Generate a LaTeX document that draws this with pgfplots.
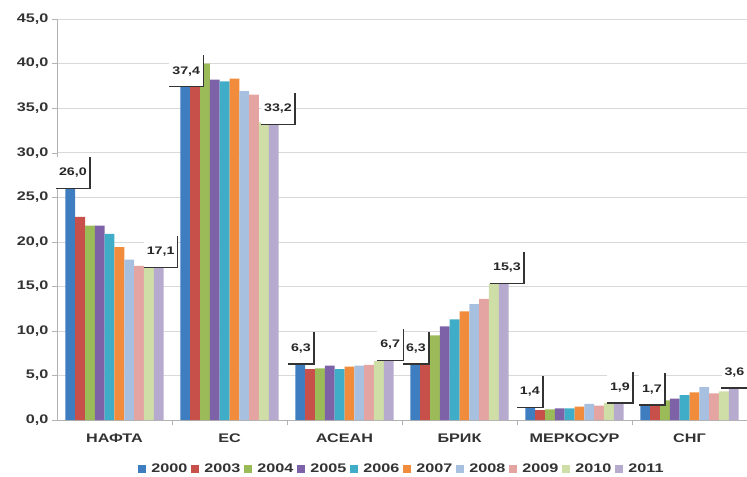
\documentclass[border=0pt]{standalone}
\usepackage{pgfplots}
\usepackage{pgfplotstable}
\pgfplotsset{compat=1.18}
\usepackage{fontspec}
\setmainfont{Liberation Sans}[FakeStretch=1.3]

\definecolor{c2000}{HTML}{3D7DC0}
\definecolor{c2003}{HTML}{C8504B}
\definecolor{c2004}{HTML}{9BBB59}
\definecolor{c2005}{HTML}{7E62A8}
\definecolor{c2006}{HTML}{40ADC8}
\definecolor{c2007}{HTML}{F08C3C}
\definecolor{c2008}{HTML}{A8C0E0}
\definecolor{c2009}{HTML}{E4A4A2}
\definecolor{c2010}{HTML}{CFDDA6}
\definecolor{c2011}{HTML}{B6ABCE}
\definecolor{txt}{HTML}{333333}

% cat: 0 NAFTA, 1 EU, 2 ASEAN, 3 BRIC, 4 MERCOSUR, 5 CIS
\pgfplotstableread{
cat y2000 y2003 y2004 y2005 y2006 y2007 y2008 y2009 y2010 y2011
0   26.0  22.8  21.8  21.8  20.9  19.4  18.0  17.3  17.1  17.1
1   37.4  37.4  40.0  38.2  38.0  38.3  36.9  36.5  33.4  33.2
2   6.3   5.7   5.8   6.1   5.7   6.0   6.1   6.2   6.6   6.7
3   6.3   6.3   9.5   10.5  11.3  12.2  13.0  13.6  15.3  15.3
4   1.4   1.1   1.2   1.3   1.3   1.5   1.8   1.6   1.9   1.9
5   1.7   1.7   2.2   2.4   2.8   3.1   3.7   3.0   3.2   3.6
}\trade

\begin{document}
\begin{tikzpicture}[
  lbl/.style={anchor=south east, fill=white, text=black!85,
    font=\bfseries\fontsize{11}{12}\selectfont,
    inner xsep=3bp, minimum height=31bp},
  ll/.style={draw=black!80, line width=1.3bp}
]
\begin{axis}[
  scale only axis, width=690bp, height=401bp,
  ybar=0pt, bar width=9.83bp,
  xmin=-0.5, xmax=5.5, ymin=0, ymax=45,
  clip=false,
  axis x line*=bottom, axis y line*=left,
  axis line style={draw=black!30},
  ytick={0,5,...,45},
  ymajorgrids, grid style={draw=black!15},
  tick align=outside, major tick length=5bp,
  ytick style={draw=black!30},
  yticklabel style={text=txt, font=\bfseries\fontsize{12.5}{14}\selectfont},
  /pgf/number format/.cd, fixed, fixed zerofill, precision=1, use comma,
  assume math mode=true, /pgfplots/.cd,
  xtick={0,...,5},
  xticklabels={НАФТА,ЕС,АСЕАН,БРИК,МЕРКОСУР,СНГ},
  xtick style={draw=none},
  xticklabel style={text=txt, font=\bfseries\fontsize{12.5}{14}\selectfont, yshift=-5bp},
  extra x ticks={0.5,1.5,2.5,3.5,4.5},
  extra x tick labels={},
  extra x tick style={grid=none, xtick style={draw=black!30}},
  legend columns=10,
  legend style={at={(0.5,0)}, anchor=north, yshift=-40bp, draw=none,
    font=\bfseries\fontsize{12.5}{14}\selectfont, text=txt,
    /tikz/every odd column/.append style={column sep=3bp},
    /tikz/every even column/.append style={column sep=2bp}},
  legend image code/.code={\path[#1,draw=none] (0bp,-4bp) rectangle (8bp,4bp);},
]
\addplot[fill=c2000, draw=none] table[x=cat,y=y2000] {\trade};
\addplot[fill=c2003, draw=none] table[x=cat,y=y2003] {\trade};
\addplot[fill=c2004, draw=none] table[x=cat,y=y2004] {\trade};
\addplot[fill=c2005, draw=none] table[x=cat,y=y2005] {\trade};
\addplot[fill=c2006, draw=none] table[x=cat,y=y2006] {\trade};
\addplot[fill=c2007, draw=none] table[x=cat,y=y2007] {\trade};
\addplot[fill=c2008, draw=none] table[x=cat,y=y2008] {\trade};
\addplot[fill=c2009, draw=none] table[x=cat,y=y2009] {\trade};
\addplot[fill=c2010, draw=none] table[x=cat,y=y2010] {\trade};
\addplot[fill=c2011, draw=none] table[x=cat,y=y2011] {\trade};
\legend{2000,2003,2004,2005,2006,2007,2008,2009,2010,2011}

\coordinate (O) at (rel axis cs:0,0);

\node[lbl] (a1) at (axis cs:-0.213,26.0) {26,0};
\node[lbl] (a2) at (axis cs:0.55,17.1) {17,1};
\node[lbl] (b1) at (axis cs:0.772,37.4) {37,4};
\node[lbl] (b2) at (axis cs:1.57,33.2) {33,2};
\node[lbl] (c1) at (axis cs:1.735,6.3) {6,3};
\node[lbl] (c2) at (axis cs:2.511,6.7) {6,7};
\node[lbl] (d1) at (axis cs:2.735,6.3) {6,3};
\node[lbl] (d2) at (axis cs:3.561,15.3) {15,3};
\node[lbl] (e1) at (axis cs:3.726,1.4) {1,4};
\node[lbl] (e2) at (axis cs:4.509,1.9) {1,9};
\node[lbl] (f1) at (axis cs:4.787,1.7) {1,7};
\node[lbl] (f2) at (axis cs:5.505,3.6) {3,6};
\end{axis}
\foreach \n in {a1,a2,b1,b2,c1,c2,d1,d2,e1,e2,f1,f2}
  \draw[ll] (\n.north east) |- (\n.south west);
\pgfresetboundingbox
\path[use as bounding box] (O) ++(-57bp,-57bp) rectangle ++(747bp,477bp);
\end{tikzpicture}
\end{document}
